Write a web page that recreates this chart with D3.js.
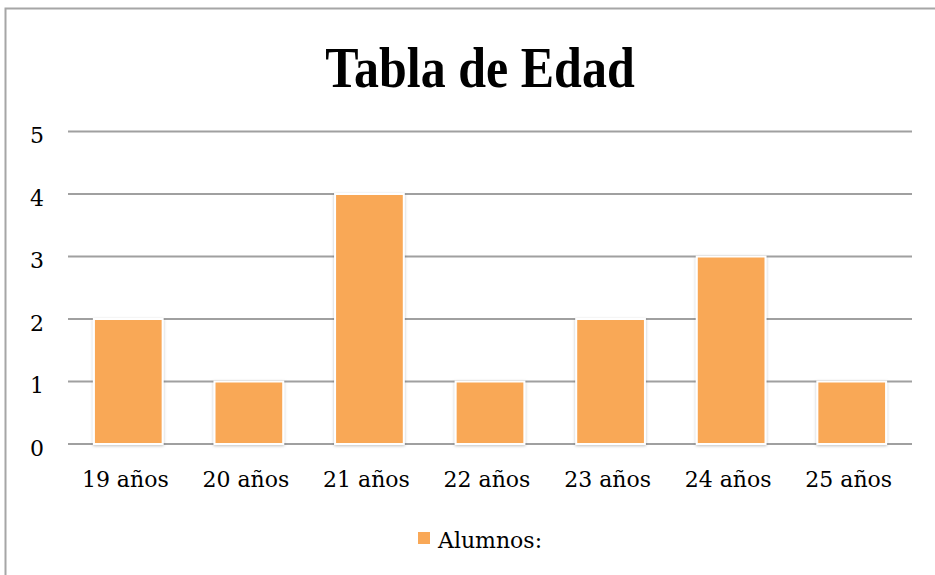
<!DOCTYPE html>
<html>
<head>
<meta charset="utf-8">
<script src="https://cdn.jsdelivr.net/npm/d3@7"></script>
<style>
  body { margin: 0; background: #fff; overflow: hidden; }
  svg { display: block; }
  text { font-family: "DejaVu Serif", "Liberation Serif", serif; }
  text.title { font-family: "Liberation Serif", serif; }
</style>
</head>
<body>
<svg id="chart" width="935" height="575"></svg>
<script>
let categories = ["19 años", "20 años", "21 años", "22 años", "23 años", "24 años", "25 años"];
let alumnos = [2, 1, 4, 1, 2, 3, 1];
let yTicks = [0, 1, 2, 3, 4, 5];
let seriesName = "Alumnos:";

let svg = d3.select("#chart");
let width = +svg.attr("width");
let height = +svg.attr("height");

let margin = { left: 68, right: 23, top: 131.5, bottom: 131 };

// outer frame (only left and top edges are visible)
svg.append("path")
    .attr("d", `M5.5,${height} V8.5 H${width}`)
    .attr("fill", "none")
    .attr("stroke", "#a6a6a6")
    .attr("stroke-width", 2);

let x = d3.scaleBand()
    .domain(categories)
    .range([margin.left, width - margin.right])
    .paddingInner(0.43)
    .paddingOuter(0.215);

let y = d3.scaleLinear()
    .domain([0, 5])
    .range([height - margin.bottom, margin.top]);

svg.append("text")
    .attr("class", "title")
    .attr("transform", "translate(480, 87) scale(1, 1.12)")
    .attr("text-anchor", "middle")
    .attr("font-size", 50)
    .attr("font-weight", "bold")
    .text("Tabla de Edad");

// gridlines
svg.append("g")
    .selectAll("line")
    .data(yTicks)
    .join("line")
    .attr("x1", margin.left).attr("x2", width - margin.right)
    .attr("y1", d => y(d)).attr("y2", d => y(d))
    .attr("stroke", "#a0a0a0")
    .attr("stroke-width", 2);

// y axis labels
let yAxis = d3.axisLeft(y).tickValues(yTicks).tickSize(0).tickPadding(0).tickFormat(d3.format("d"));
svg.append("g")
    .attr("transform", `translate(44, 0)`)
    .call(yAxis)
    .call(g => g.select(".domain").remove())
    .selectAll("text")
    .attr("font-size", 22)
    .attr("fill", "#000")
    .attr("dy", "0.5em");

// bars with soft shadow
let defs = svg.append("defs");
let f = defs.append("filter").attr("id", "shadow").attr("x", "-20%").attr("y", "-10%").attr("width", "140%").attr("height", "120%");
f.append("feDropShadow").attr("dx", 0).attr("dy", 1).attr("stdDeviation", 1.5).attr("flood-color", "#000").attr("flood-opacity", 0.25);

svg.append("g")
    .selectAll("rect")
    .data(alumnos)
    .join("rect")
    .attr("x", (d, i) => x(categories[i]))
    .attr("y", d => y(d))
    .attr("width", x.bandwidth())
    .attr("height", d => y(0) - y(d))
    .attr("fill", "#f9a857")
    .attr("stroke", "#ffffff")
    .attr("stroke-width", 2)
    .attr("filter", "url(#shadow)");

// x axis labels
let xAxis = d3.axisBottom(x).tickSize(0).tickPadding(0);
svg.append("g")
    .attr("transform", `translate(-3, ${y(0)})`)
    .call(xAxis)
    .call(g => g.select(".domain").remove())
    .selectAll("text")
    .attr("y", 43)
    .attr("dy", 0)
    .attr("font-size", 22)
    .attr("fill", "#000");

// legend
let legend = svg.append("g").attr("transform", "translate(418, 532)");
legend.append("rect")
    .attr("width", 12).attr("height", 12)
    .attr("fill", "#f9a857");
legend.append("text")
    .attr("x", 20).attr("y", 16)
    .attr("font-size", 22)
    .text(seriesName);
</script>
</body>
</html>
